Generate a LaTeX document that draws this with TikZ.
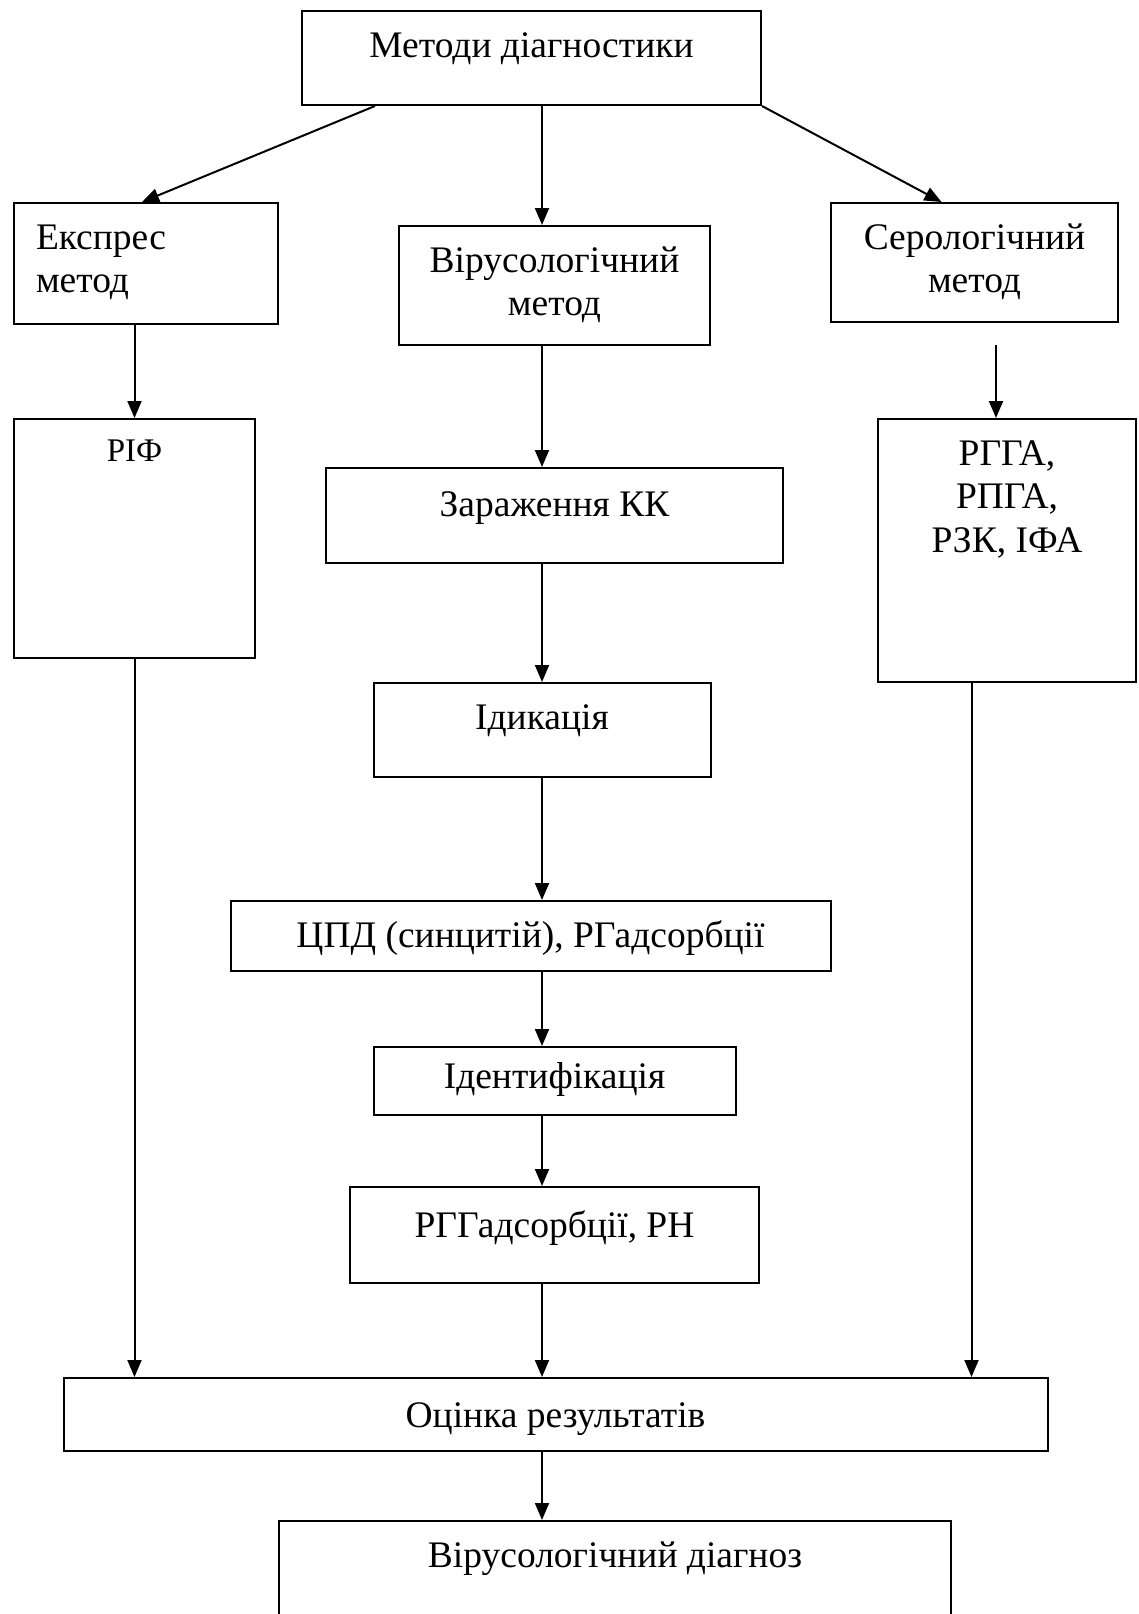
\documentclass[tikz,border=0pt]{standalone}
\usepackage{fontspec}
\setmainfont{Liberation Serif}
\usepackage{tikz}
\usetikzlibrary{arrows.meta,calc}
\newcommand{\boxtext}[2][c]{\begin{tabular}[t]{@{}#1@{}}#2\end{tabular}}
\tikzset{
  box/.style={draw, line width=2pt, inner sep=0pt, anchor=north, text height=46pt,
    font=\fontsize{37.5}{43.5}\selectfont},
  arr/.style={-{Triangle[length=17pt,width=14pt]}, line width=2pt}
}
\begin{document}
\begin{tikzpicture}[x=1pt, y=-1pt]
    \clip (0,0) rectangle (1139,1614);
    % boxes
    \node[box, minimum width=459pt, text depth=48pt] (meth) at (531.5,10) {\boxtext{Методи діагностики}};
    \node[box, text width=220pt, inner xsep=22pt, align=left, text depth=75pt] (expr) at (146,202) {\boxtext[l]{Експрес\\метод}};
    \node[box, minimum width=311pt, text depth=73pt] (virus) at (554.5,225) {\boxtext{Вірусологічний\\метод}};
    \node[box, minimum width=287pt, text depth=73pt] (serol) at (974.5,202) {\boxtext{Серологічний\\метод}};
    \node[box, minimum width=241pt, text height=42pt, text depth=197pt, font=\fontsize{33}{40}\selectfont] (rif) at (134.5,418) {\boxtext{РІФ}};
    \node[box, minimum width=258pt, text depth=217pt] (rgga) at (1007,418) {\boxtext{РГГА,\\РПГА,\\РЗК, ІФА}};
    \node[box, minimum width=457pt, text height=48pt, text depth=47pt] (zar) at (554.5,467) {\boxtext{Зараження КК}};
    \node[box, minimum width=337pt, text depth=48pt] (idyk) at (542,682) {\boxtext{Ідикація}};
    \node[box, minimum width=600pt, text depth=24pt] (cpd) at (530.5,900) {\boxtext{ЦПД (синцитій), РГадсорбції}};
    \node[box, minimum width=362pt, text height=41pt, text depth=27pt] (ident) at (554.5,1046) {\boxtext{Ідентифікація}};
    \node[box, minimum width=409pt, text height=50pt, text depth=46pt] (rggad) at (554.5,1186) {\boxtext{РГГадсорбції, РН}};
    \node[box, minimum width=984pt, text height=49pt, text depth=24pt] (ocin) at (555.5,1377) {\boxtext{Оцінка результатів}};
    \node[box, minimum width=672pt, text depth=70pt] (diag) at (615,1520) {\boxtext{Вірусологічний діагноз}};
    % arrows
    \coordinate (mid) at (542,0);
    \coordinate (sgap) at (996,345);
    \draw[arr] ([xshift=74pt]meth.south west) -- ([xshift=-4pt]expr.north);
    \draw[arr] (meth.south -| mid) -- (virus.north -| mid);
    \draw[arr] (meth.south east) -- ([xshift=-33pt]serol.north);
    \draw[arr] (expr.south -| rif.north) -- (rif.north);
    \draw[arr] (sgap) -- (sgap |- rgga.north);
    \draw[arr] (virus.south -| mid) -- (zar.north -| mid);
    \draw[arr] (zar.south -| mid) -- (idyk.north -| mid);
    \draw[arr] (idyk.south -| mid) -- (cpd.north -| mid);
    \draw[arr] (cpd.south -| mid) -- (ident.north -| mid);
    \draw[arr] (ident.south -| mid) -- (rggad.north -| mid);
    \draw[arr] (rggad.south -| mid) -- (ocin.north -| mid);
    \draw[arr] (rif.south) -- (rif.south |- ocin.north);
    \draw[arr] ([xshift=-35.5pt]rgga.south) -- ([xshift=-35.5pt]rgga.south |- ocin.north);
    \draw[arr] (ocin.south -| mid) -- (diag.north -| mid);
\end{tikzpicture}
\end{document}
